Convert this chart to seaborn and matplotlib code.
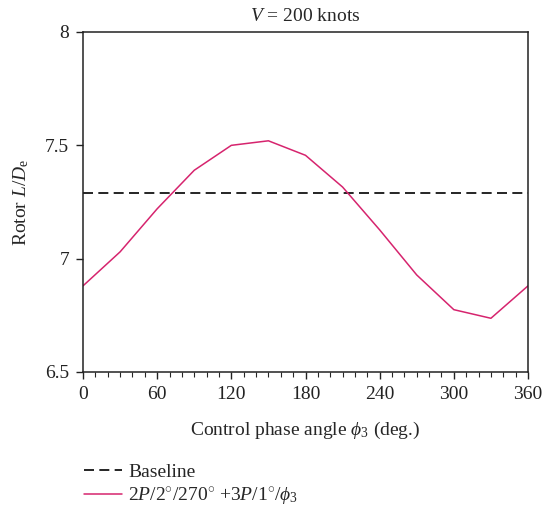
import numpy as np
import pandas as pd
import matplotlib
matplotlib.use("Agg")
import matplotlib.pyplot as plt
import seaborn as sns
from matplotlib.ticker import MultipleLocator

phase_deg = [0, 30, 60, 90, 120, 150, 180, 210, 240, 270, 300, 330, 360]
rotor_ld = [6.88, 7.03, 7.22, 7.39, 7.50, 7.52, 7.456, 7.316, 7.127, 6.928, 6.775, 6.737, 6.88]
baseline_value = 7.29
baseline_x = [0, 360]
x_ticks = [0, 60, 120, 180, 240, 300, 360]
y_ticks = [6.5, 7, 7.5, 8]
y_tick_labels = ["6.5", "7", "7.5", "8"]
series_label = r"$2P/2^{\circ}/270^{\circ}$ +$3P/1^{\circ}/\phi_3$"
baseline_label = "Baseline"

sns.set_style("ticks")
plt.rcParams["font.family"] = ["Liberation Serif", "DejaVu Serif"]
plt.rcParams["mathtext.fontset"] = "custom"
plt.rcParams["mathtext.rm"] = "Liberation Serif"
plt.rcParams["mathtext.it"] = "Liberation Serif:italic"
plt.rcParams["mathtext.bf"] = "Liberation Serif:bold"

FS = 14

fig = plt.figure(figsize=(5.45, 5.13), dpi=100)
ax = fig.add_axes([83/545, 1-372/513, (528-83)/545, (372-32)/513])

df = pd.DataFrame({"phase": phase_deg, "ld": rotor_ld})
dfb = pd.DataFrame({"phase": baseline_x, "ld": [baseline_value]*len(baseline_x)})

sns.lineplot(data=dfb, x="phase", y="ld", ax=ax, color="black", linestyle=(0, (6, 3.2)),
             linewidth=1.2, label=baseline_label, legend=False)
sns.lineplot(data=df, x="phase", y="ld", ax=ax, color="#d6246e", linewidth=1.1,
             label=series_label, legend=False)

ax.set_xlim(0, 360)
ax.set_ylim(6.5, 8)
ax.set_xticks(x_ticks)
ax.set_xticklabels([str(t) for t in x_ticks])
ax.xaxis.set_minor_locator(MultipleLocator(10))
ax.set_yticks(y_ticks)
ax.set_yticklabels(y_tick_labels)
ax.tick_params(axis="both", which="major", direction="out", length=5, width=1.0,
               labelsize=FS, colors="#222222", pad=5)
ax.tick_params(axis="x", which="minor", direction="out", length=3.5, width=0.8)
for s in ax.spines.values():
    s.set_linewidth(1.1)
    s.set_color("#222222")
    s.set_visible(True)

ax.set_title(r"$V$ = 200 knots", fontsize=FS, pad=8)
ax.set_xlabel(r"Control phase angle $\phi_3$ (deg.)", fontsize=FS, labelpad=12)
ax.set_ylabel(r"Rotor $L/D_{\mathrm{e}}$", fontsize=FS, labelpad=10)

handles, labels = ax.get_legend_handles_labels()
fig.legend(handles, labels, loc="upper left", bbox_to_anchor=(0.139, 0.112),
           frameon=False, fontsize=FS, handlelength=2.0, handletextpad=0.3,
           labelspacing=0.25, borderaxespad=0)

fig.savefig("out.png", dpi=100)
